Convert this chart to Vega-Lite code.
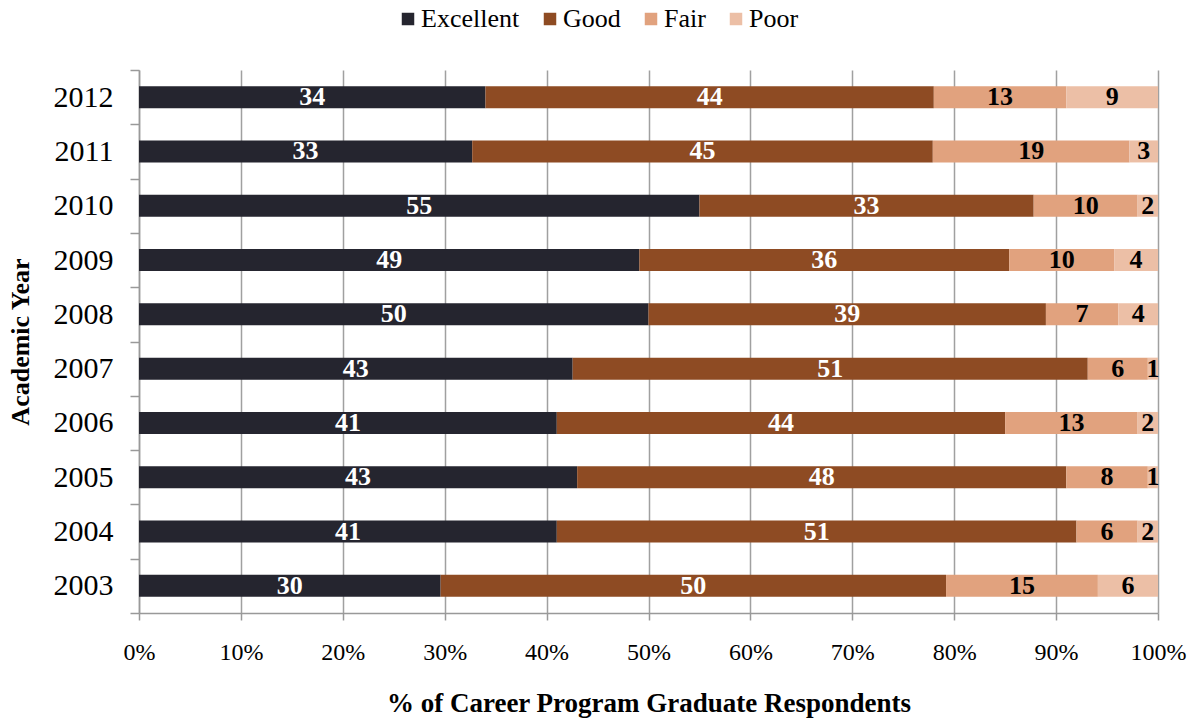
{
  "$schema": "https://vega.github.io/schema/vega-lite/v6.json",
  "width": 1019,
  "height": 543,
  "autosize": {"type": "none"},
  "padding": {"left": 139, "top": 70, "right": 37, "bottom": 108},
  "background": "white",
  "config": {"font": "Liberation Serif", "view": {"stroke": null}},
  "data": {"values": [
    {"Year": "2012", "Rating": "Excellent", "Value": 34.0},
    {"Year": "2012", "Rating": "Good", "Value": 44.0},
    {"Year": "2012", "Rating": "Fair", "Value": 13.0},
    {"Year": "2012", "Rating": "Poor", "Value": 9.0},
    {"Year": "2011", "Rating": "Excellent", "Value": 32.7},
    {"Year": "2011", "Rating": "Good", "Value": 45.2},
    {"Year": "2011", "Rating": "Fair", "Value": 19.3},
    {"Year": "2011", "Rating": "Poor", "Value": 2.8},
    {"Year": "2010", "Rating": "Excellent", "Value": 55.0},
    {"Year": "2010", "Rating": "Good", "Value": 32.8},
    {"Year": "2010", "Rating": "Fair", "Value": 10.2},
    {"Year": "2010", "Rating": "Poor", "Value": 2.0},
    {"Year": "2009", "Rating": "Excellent", "Value": 49.1},
    {"Year": "2009", "Rating": "Good", "Value": 36.3},
    {"Year": "2009", "Rating": "Fair", "Value": 10.3},
    {"Year": "2009", "Rating": "Poor", "Value": 4.3},
    {"Year": "2008", "Rating": "Excellent", "Value": 50.0},
    {"Year": "2008", "Rating": "Good", "Value": 39.0},
    {"Year": "2008", "Rating": "Fair", "Value": 7.1},
    {"Year": "2008", "Rating": "Poor", "Value": 3.9},
    {"Year": "2007", "Rating": "Excellent", "Value": 42.6},
    {"Year": "2007", "Rating": "Good", "Value": 50.6},
    {"Year": "2007", "Rating": "Fair", "Value": 5.9},
    {"Year": "2007", "Rating": "Poor", "Value": 1.0},
    {"Year": "2006", "Rating": "Excellent", "Value": 41.0},
    {"Year": "2006", "Rating": "Good", "Value": 44.0},
    {"Year": "2006", "Rating": "Fair", "Value": 13.0},
    {"Year": "2006", "Rating": "Poor", "Value": 2.0},
    {"Year": "2005", "Rating": "Excellent", "Value": 43.0},
    {"Year": "2005", "Rating": "Good", "Value": 48.0},
    {"Year": "2005", "Rating": "Fair", "Value": 8.0},
    {"Year": "2005", "Rating": "Poor", "Value": 1.0},
    {"Year": "2004", "Rating": "Excellent", "Value": 41.0},
    {"Year": "2004", "Rating": "Good", "Value": 51.0},
    {"Year": "2004", "Rating": "Fair", "Value": 6.0},
    {"Year": "2004", "Rating": "Poor", "Value": 2.0},
    {"Year": "2003", "Rating": "Excellent", "Value": 29.6},
    {"Year": "2003", "Rating": "Good", "Value": 49.6},
    {"Year": "2003", "Rating": "Fair", "Value": 14.9},
    {"Year": "2003", "Rating": "Poor", "Value": 5.9}
  ]},
  "transform": [
    {"stack": "Value", "groupby": ["Year"], "offset": "normalize", "as": ["x0", "x1"]}
  ],
  "layer": [
    {
      "mark": {"type": "bar", "height": {"band": 0.405}},
      "encoding": {
        "y": {
          "field": "Year", "type": "ordinal", "sort": "descending",
          "scale": {"paddingInner": 0, "paddingOuter": 0},
          "axis": {
            "tickBand": "extent", "grid": false,
            "domainColor": "#999999", "domainWidth": 1.5,
            "tickColor": "#999999", "tickWidth": 1.5, "tickSize": 9,
            "labelFontSize": 30, "labelColor": "black", "labelPadding": 17,
            "labelFont": "Liberation Serif",
            "title": "Academic Year", "titleFontSize": 26, "titleFontWeight": "bold",
            "titleFont": "Liberation Serif",
            "titleColor": "black", "titlePadding": 20
          }
        },
        "x": {
          "field": "x0", "type": "quantitative",
          "scale": {"domain": [0, 1], "nice": false},
          "axis": {
            "format": "%", "values": [0, 0.1, 0.2, 0.3, 0.4, 0.5, 0.6, 0.7, 0.8, 0.9, 1],
            "labelFlush": false,
            "grid": true, "gridColor": "#a0a0a0", "gridWidth": 1.5,
            "domainColor": "#999999", "domainWidth": 1.5,
            "tickColor": "#999999", "tickWidth": 1.5, "tickSize": 7,
            "labelFontSize": 24, "labelColor": "black", "labelPadding": 20,
            "labelFont": "Liberation Serif",
            "title": "% of Career Program Graduate Respondents",
            "titleFont": "Liberation Serif",
            "titleFontSize": 27, "titleFontWeight": "bold", "titleColor": "black",
            "titlePadding": 26
          }
        },
        "x2": {"field": "x1"},
        "color": {
          "field": "Rating", "type": "nominal",
          "scale": {
            "domain": ["Excellent", "Good", "Fair", "Poor"],
            "range": ["#25252f", "#8e4b23", "#e1a27e", "#ecbfa6"]
          },
          "legend": {
            "orient": "none", "legendX": 256, "legendY": -64,
            "direction": "horizontal", "title": null,
            "symbolType": "square", "symbolSize": 156, "symbolStrokeWidth": 0,
            "labelFont": "Liberation Serif",
            "labelFontSize": 26, "labelColor": "black", "labelOffset": 0,
            "columnPadding": 17
          }
        }
      }
    },
    {
      "transform": [
        {"fold": ["x0", "x1"], "as": ["edge", "pos"]},
        {"aggregate": [{"op": "mean", "field": "pos", "as": "mid"}], "groupby": ["Year", "Rating", "Value"]}
      ],
      "mark": {"type": "text", "fontWeight": "bold", "fontSize": 26, "baseline": "middle", "font": "Liberation Serif"},
      "encoding": {
        "y": {"field": "Year", "type": "ordinal", "sort": "descending"},
        "x": {"field": "mid", "type": "quantitative"},
        "text": {"field": "Value", "type": "quantitative", "format": ".0f"},
        "color": {
          "condition": {"test": "datum.Rating === 'Excellent' || datum.Rating === 'Good'", "value": "white"},
          "value": "black"
        }
      }
    }
  ]
}
